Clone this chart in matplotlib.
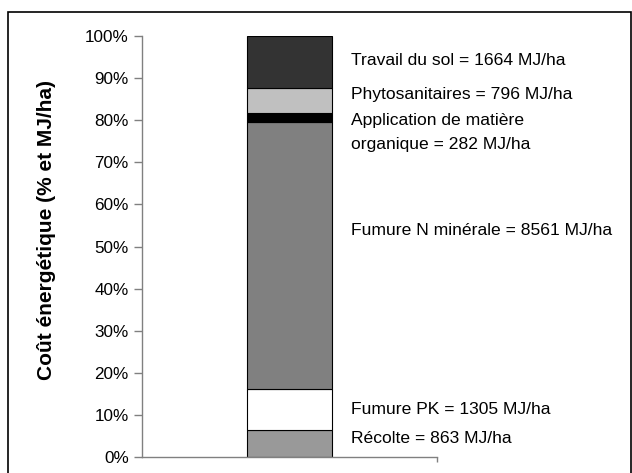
import numpy as np
import matplotlib.pyplot as plt
from matplotlib.patches import Rectangle

plt.rcParams['font.family'] = ['Liberation Sans', 'DejaVu Sans']

# postes de cout energetique (MJ/ha), du bas vers le haut
postes = ['Récolte', 'Fumure PK', 'Fumure N minérale',
          'Application de matière\norganique', 'Phytosanitaires', 'Travail du sol']
valeurs = [863, 1305, 8561, 282, 796, 1664]
couleurs = ['#999999', '#ffffff', '#808080', '#000000', '#c0c0c0', '#333333']
label_y = [4.3, 11.4, 53.7, 77.1, 86.0, 94.1]

pct = np.array(valeurs) / sum(valeurs) * 100
bas = np.concatenate([[0], np.cumsum(pct)[:-1]])

fig = plt.figure(figsize=(6.32, 4.73), dpi=100)
ax = fig.add_axes([0.2247, 0.0338, 0.4668, 0.890])

ax.bar(0.5, pct, bottom=bas, width=0.288, color=couleurs,
       edgecolor='black', linewidth=0.8)

for nom, v, y in zip(postes, valeurs, label_y):
    ax.text(0.708, y, f'{nom} = {v} MJ/ha', va='center', ha='left',
            fontsize=12.6, linespacing=1.75, clip_on=False)

ax.set_xlim(0, 1)
ax.set_ylim(0, 100)
ax.set_yticks(np.arange(0, 101, 10))
ax.set_yticklabels([f'{t}%' for t in range(0, 101, 10)], fontsize=12.3)
ax.set_xticks([1.0])
ax.set_xticklabels([''])
ax.tick_params(axis='y', color='#808080', length=5.5, width=1, pad=4)
ax.tick_params(axis='x', color='#808080', length=3.5, width=1)
ax.spines['top'].set_visible(False)
ax.spines['right'].set_visible(False)
for s in ['left', 'bottom']:
    ax.spines[s].set_color('#808080')
    ax.spines[s].set_linewidth(1)

fig.text(0.074, 0.514, 'Coût énergétique (% et MJ/ha)', rotation=90,
         ha='center', va='center', fontsize=15, fontweight='bold')

fig.patches.append(Rectangle((0.0127, -0.05), 0.985, 1.0246, transform=fig.transFigure,
                             fill=False, edgecolor='black', linewidth=1.2))

fig.savefig('out.png', dpi=100)
